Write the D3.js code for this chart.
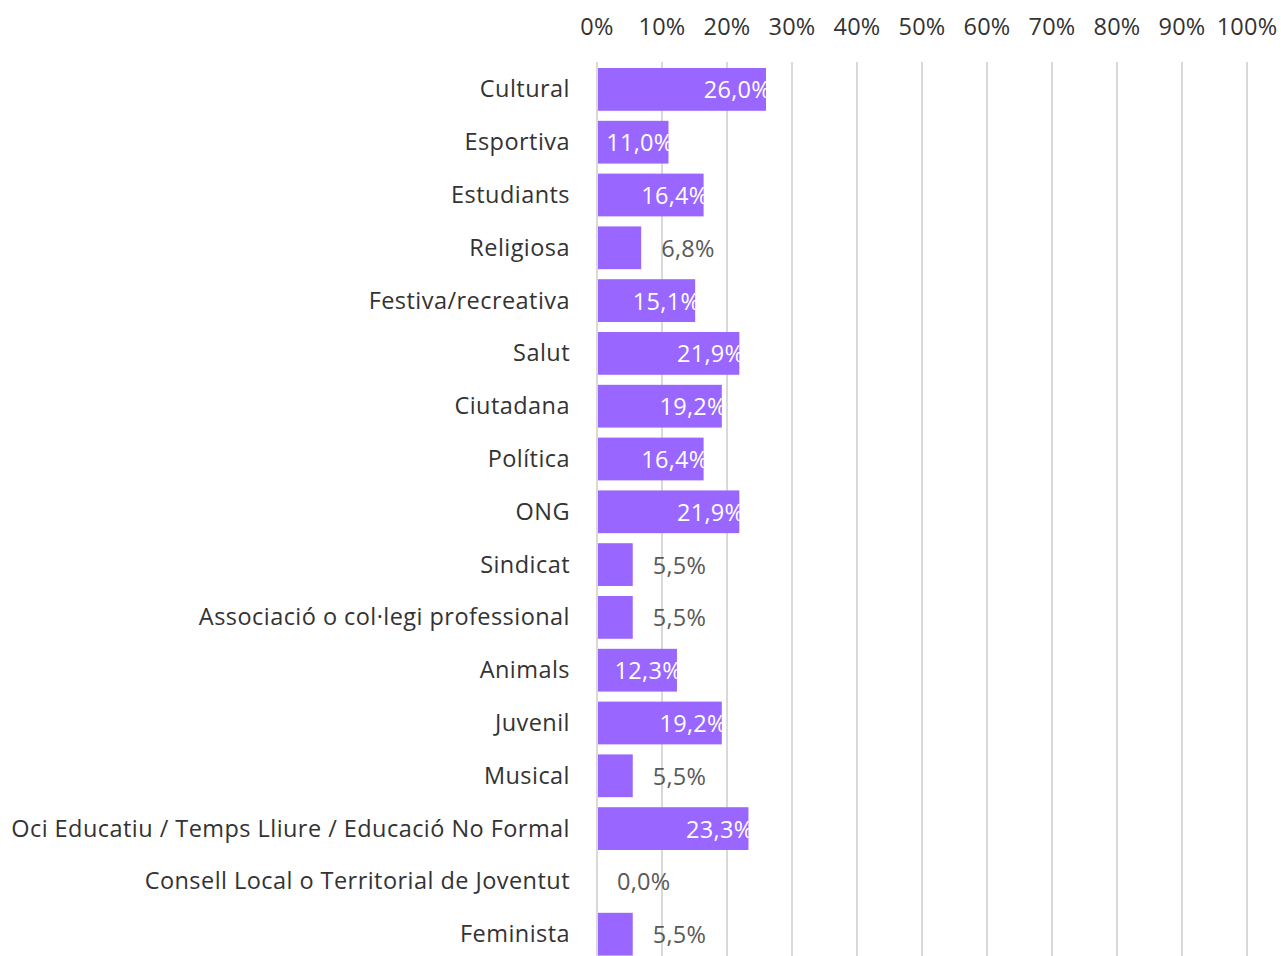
<!DOCTYPE html>
<html>
<head>
<meta charset="utf-8">
<script src="https://cdn.jsdelivr.net/npm/d3@7"></script>
<style>
  html, body { margin: 0; padding: 0; background: #fff; overflow: hidden; }
  svg { display: block; }
</style>
</head>
<body>
<svg id="chart" width="1281" height="956"></svg>
<script>
const categories = [
  "Cultural", "Esportiva", "Estudiants", "Religiosa", "Festiva/recreativa", "Salut",
  "Ciutadana", "Política", "ONG", "Sindicat", "Associació o col·legi professional",
  "Animals", "Juvenil", "Musical", "Oci Educatiu / Temps Lliure / Educació No Formal",
  "Consell Local o Territorial de Joventut", "Feminista"
];
const values = [26.0, 11.0, 16.4, 6.8, 15.1, 21.9, 19.2, 16.4, 21.9, 5.5, 5.5, 12.3, 19.2, 5.5, 23.3, 0.0, 5.5];
const tickValues = [0, 10, 20, 30, 40, 50, 60, 70, 80, 90, 100];

const FONT = "'Open Sans', 'Noto Sans', sans-serif";
const FS = 23.5;
const LS = 0.45;
const svg = d3.select("#chart");

const x = d3.scaleLinear().domain([0, 100]).range([597, 1247]);
const y = d3.scaleBand().domain(categories).range([63, 960.6]).paddingInner(0.19).paddingOuter(0.095);

const fmt = v => v.toFixed(1).replace(".", ",") + "%";

// gridlines
svg.append("g").selectAll("line").data(tickValues).join("line")
  .attr("x1", d => x(d)).attr("x2", d => x(d))
  .attr("y1", 62).attr("y2", 956)
  .attr("stroke", "#d9d9d9").attr("stroke-width", 2);

// top tick labels
svg.append("g").selectAll("text").data(tickValues).join("text")
  .attr("x", d => x(d)).attr("y", 26)
  .attr("text-anchor", "middle").attr("dominant-baseline", "central")
  .attr("font-family", FONT).attr("font-size", FS).attr("letter-spacing", 0.25)
  .attr("fill", "#333333")
  .text(d => d + "%");

// bars
svg.append("g").selectAll("rect").data(categories).join("rect")
  .attr("x", x(0) + 1)
  .attr("y", d => y(d))
  .attr("width", (d, i) => Math.max(0, x(values[i]) - x(0) - 1))
  .attr("height", y.bandwidth())
  .attr("fill", "#9966ff");

// category labels
svg.append("g").selectAll("text").data(categories).join("text")
  .attr("x", 570)
  .attr("y", d => y(d) + y.bandwidth() / 2 - 1)
  .attr("text-anchor", "end").attr("dominant-baseline", "central")
  .attr("font-family", FONT).attr("font-size", FS).attr("letter-spacing", LS)
  .attr("fill", "#333333")
  .text(d => d);

// value labels
svg.append("g").selectAll("text").data(categories).join("text")
  .attr("x", (d, i) => values[i] >= 10 ? x(values[i]) + 5 : x(values[i]) + 20)
  .attr("y", d => y(d) + y.bandwidth() / 2)
  .attr("text-anchor", (d, i) => values[i] >= 10 ? "end" : "start")
  .attr("dominant-baseline", "central")
  .attr("font-family", FONT).attr("font-size", FS).attr("letter-spacing", 0.3)
  .attr("fill", (d, i) => values[i] >= 10 ? "#ffffff" : "#595959")
  .text((d, i) => fmt(values[i]));
</script>
</body>
</html>
